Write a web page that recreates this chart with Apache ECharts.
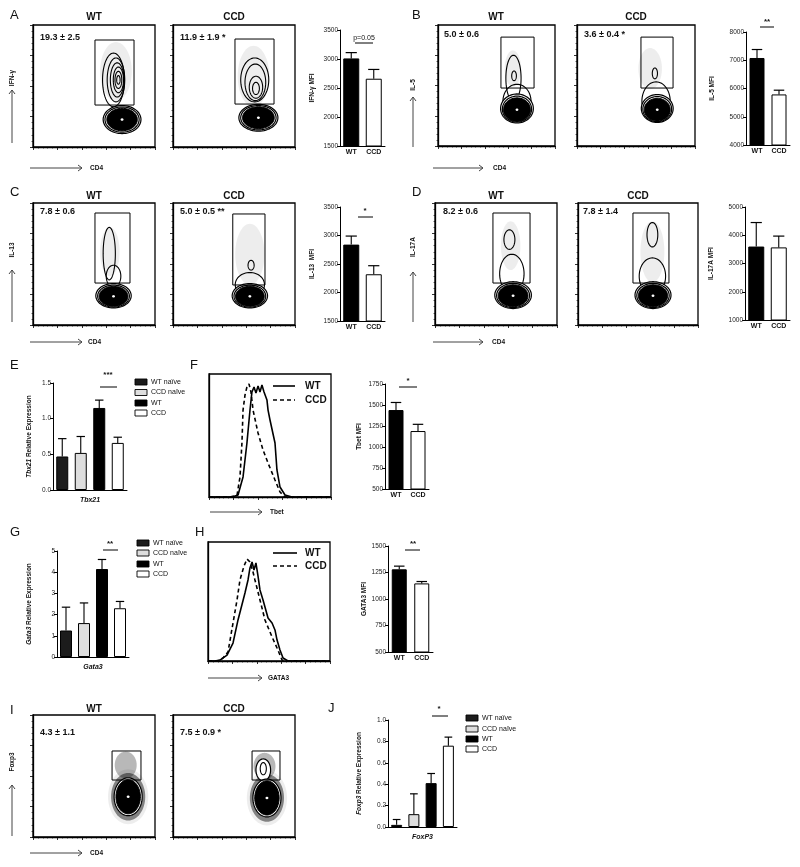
<!DOCTYPE html>
<html><head><meta charset="utf-8">
<script src="https://cdn.jsdelivr.net/npm/echarts@6/dist/echarts.min.js"></script>
<style>html,body{margin:0;padding:0;background:#fff}#c{width:800px;height:867px}</style>
</head><body><div id="c"></div>
<script>
// ================= DATA =================
const flowGroups = ['WT', 'CCD'];
const qpcrGroups = ['WT naïve', 'CCD naïve', 'WT', 'CCD'];

// gated percentages (mean ± SEM)
const pctIFNg  = ['19.3 ± 2.5', '11.9 ± 1.9 *'];
const pctIL5   = ['5.0 ± 0.6', '3.6 ± 0.4 *'];
const pctIL13  = ['7.8 ± 0.6', '5.0 ± 0.5 **'];
const pctIL17A = ['8.2 ± 0.6', '7.8 ± 1.4'];
const pctFoxp3 = ['4.3 ± 1.1', '7.5 ± 0.9 *'];

// gates [xMin, yMin, xMax, yMax] in plot units (0..1)
const gateIFNg  = [[0.508, 0.344, 0.828, 0.877], [0.508, 0.352, 0.828, 0.885]];
const gateIL5   = [[0.538, 0.479, 0.821, 0.900], [0.542, 0.479, 0.814, 0.900]];
const gateIL13  = [[0.508, 0.344, 0.795, 0.918], [0.490, 0.328, 0.754, 0.910]];
const gateIL17A = [[0.475, 0.344, 0.779, 0.918], [0.458, 0.344, 0.758, 0.918]];
const gateFoxp3 = [[0.648, 0.467, 0.885, 0.705], [0.648, 0.467, 0.877, 0.705]];

// contour levels [cx, cy, rx, ry, kind]  kind: 0 ring, 1 dense core, 2 sparse events, 3 centre, 4 open contour, 5 dense events
const contIFNgWT = [[0.68,0.62,0.13,0.24,2],[0.66,0.55,0.09,0.22,4],[0.68,0.55,0.072,0.18,4],[0.69,0.55,0.056,0.14,4],[0.70,0.55,0.042,0.105,4],[0.70,0.55,0.028,0.07,4],[0.70,0.55,0.014,0.035,4],
  [0.73,0.225,0.155,0.115,0],[0.73,0.225,0.14,0.103,0],[0.73,0.225,0.125,0.092,1],[0.73,0.225,0.012,0.01,3]];
const contIFNgCCD = [[0.66,0.58,0.13,0.25,2],[0.67,0.55,0.115,0.18,4],[0.675,0.53,0.085,0.15,4],[0.68,0.49,0.055,0.09,4],[0.68,0.48,0.028,0.05,4],
  [0.70,0.24,0.16,0.11,0],[0.70,0.24,0.145,0.10,0],[0.70,0.24,0.13,0.09,1],[0.70,0.24,0.012,0.01,3]];
const contIL5WT = [[0.64,0.64,0.07,0.15,2],[0.645,0.56,0.065,0.19,4],[0.65,0.58,0.02,0.04,4],
  [0.675,0.37,0.12,0.14,4],[0.675,0.31,0.14,0.12,0],[0.675,0.305,0.125,0.107,0],[0.675,0.30,0.115,0.098,1],[0.675,0.30,0.012,0.01,3]];
const contIL5CCD = [[0.62,0.64,0.10,0.17,2],[0.66,0.60,0.022,0.045,4],[0.67,0.37,0.12,0.16,4],
  [0.68,0.31,0.135,0.115,0],[0.68,0.305,0.122,0.104,0],[0.68,0.30,0.11,0.094,1],[0.68,0.30,0.012,0.01,3]];
const contIL13WT = [[0.63,0.60,0.08,0.20,2],[0.625,0.585,0.05,0.215,4],[0.66,0.40,0.06,0.09,4],
  [0.66,0.24,0.145,0.10,0],[0.66,0.237,0.13,0.09,0],[0.66,0.235,0.118,0.082,1],[0.66,0.235,0.012,0.01,3]];
const contIL13CCD = [[0.63,0.58,0.12,0.25,2],[0.64,0.49,0.025,0.04,4],[0.63,0.33,0.12,0.10,4],
  [0.63,0.24,0.145,0.10,0],[0.63,0.237,0.13,0.09,0],[0.63,0.235,0.118,0.082,1],[0.63,0.235,0.012,0.01,3]];
const contIL17AWT = [[0.62,0.65,0.08,0.20,2],[0.61,0.70,0.045,0.08,4],[0.63,0.42,0.10,0.16,4],
  [0.64,0.245,0.15,0.11,0],[0.64,0.242,0.135,0.099,0],[0.64,0.24,0.122,0.09,1],[0.64,0.24,0.012,0.01,3]];
const contIL17ACCD = [[0.62,0.60,0.10,0.25,2],[0.62,0.74,0.045,0.10,4],[0.62,0.40,0.11,0.15,4],
  [0.625,0.245,0.15,0.11,0],[0.625,0.242,0.135,0.099,0],[0.625,0.24,0.122,0.09,1],[0.625,0.24,0.012,0.01,3]];
const contFoxp3WT = [[0.78,0.33,0.165,0.225,2],[0.78,0.33,0.14,0.195,5],[0.76,0.59,0.09,0.11,6],
  [0.78,0.33,0.115,0.155,0],[0.78,0.33,0.10,0.14,1],[0.78,0.33,0.012,0.01,3]];
const contFoxp3CCD = [[0.77,0.32,0.165,0.225,2],[0.77,0.32,0.14,0.195,5],[0.75,0.58,0.09,0.11,6],
  [0.74,0.55,0.06,0.09,0],[0.74,0.56,0.025,0.05,4],
  [0.77,0.32,0.115,0.155,0],[0.77,0.32,0.10,0.14,1],[0.77,0.32,0.012,0.01,3]];

// MFI bar values (mean, SEM)
const mfiIFNg  = [3010, 2660], semIFNg  = [100, 160];
const mfiIL5   = [7080, 5790], semIL5   = [300, 150];
const mfiIL13  = [2840, 2320], semIL13  = [150, 150];
const mfiIL17A = [3600, 3570], semIL17A = [850, 400];
const mfiTbet  = [1440, 1190], semTbet  = [90, 80];
const mfiGATA3 = [1280, 1147], semGATA3 = [30, 18];

// qPCR relative expression (mean, SEM)
const relTbx21 = [0.47, 0.52, 1.15, 0.66], errTbx21 = [0.25, 0.23, 0.11, 0.08];
const relGata3 = [1.25, 1.6, 4.15, 2.3],   errGata3 = [1.1, 0.95, 0.45, 0.32];
const relFoxp3 = [0.02, 0.12, 0.41, 0.76], errFoxp3 = [0.05, 0.19, 0.09, 0.08];

// y axis ranges [min, max, interval]
const yIFNg = [1500, 3500, 500], yIL5 = [4000, 8000, 1000], yIL13 = [1500, 3500, 500], yIL17A = [1000, 5000, 1000];
const yTbet = [500, 1750, 250], yGATA3 = [500, 1500, 250];
const yTbx21 = [0, 1.5, 0.5], yGata3 = [0, 5, 1], yFoxp3 = [0, 1.0, 0.2];

// histograms [channel, % of max]
const histTbetWT = [[0,0],[18.9,0],[23.8,1.6],[27.9,16.3],[31.1,43.9],[33.6,70.7],[35.2,85.4],[36.9,89.4],[38.5,84.6],[40.2,90.2],[41.8,85.4],[43.4,91.1],[45.1,85.4],[47.5,78.9],[48.4,70.7],[50.0,62.6],[54.1,43.9],[55.7,22.0],[58.2,8.1],[62.3,1.6],[68.0,0],[100,0]];
const histTbetCCD = [[0,0],[17.2,0],[23.0,1.6],[25.4,16.3],[27.0,43.9],[27.9,70.7],[29.5,82.9],[31.1,89.4],[32.8,91.9],[34.4,85.4],[36.1,70.7],[40.2,52.0],[44.3,38.2],[48.4,27.6],[54.1,13.8],[58.2,4.1],[62.3,0],[100,0]];
const histGATA3WT = [[0,0],[5.7,0],[9.8,0.8],[15.6,5.0],[20.5,15.1],[24.6,34.5],[30.3,57.1],[32.8,68.1],[34.4,78.2],[36.1,83.2],[37.7,76.5],[39.3,82.4],[41.0,71.4],[42.6,59.7],[45.1,51.3],[49.2,36.1],[52.5,31.9],[54.9,26.1],[56.6,17.6],[59.0,9.2],[61.5,2.5],[65.6,0],[100,0]];
const histGATA3CCD = [[0,0],[8.2,0],[12.3,2.5],[16.4,7.6],[20.5,31.9],[23.8,51.3],[26.2,68.1],[29.5,79.8],[32.0,85.7],[34.4,83.2],[36.9,74.8],[38.5,68.1],[42.6,51.3],[46.7,34.5],[52.5,20.2],[56.6,10.9],[60.7,0.8],[63.9,0],[100,0]];

// ================= BUILD =================
const FONT = '"Liberation Sans", Arial, Helvetica, sans-serif';
const grids = [], xAxes = [], yAxes = [], series = [], graphics = [];
const flowFill = ['#000', '#fff'];
const qpcrFill = ['#1c1c1c', '#dedede', '#000', '#fff'];

function addGrid(box, extra) {
  grids.push(Object.assign({left: box[0], top: box[1], width: box[2], height: box[3], containLabel: false}, extra || {}));
  return grids.length - 1;
}
function T(x, y, s, o, rot) {
  const g = {type: 'text', x: x, y: y, silent: true, z: 100,
    style: Object.assign({text: s, fontSize: 10, fontFamily: FONT, fill: '#111', align: 'left', verticalAlign: 'middle'}, o || {})};
  if (rot) g.rotation = rot;
  graphics.push(g);
}
function L(x1, y1, x2, y2, o) {
  graphics.push({type: 'line', silent: true, z: 100, shape: {x1: x1, y1: y1, x2: x2, y2: y2},
    style: Object.assign({stroke: '#000', lineWidth: 1}, o || {})});
}
function arrowH(x1, x2, y, label, lx) {
  L(x1, y, x2, y, {stroke: '#444'});
  graphics.push({type: 'polyline', silent: true, z: 100, shape: {points: [[x2 - 4, y - 3], [x2, y], [x2 - 4, y + 3]]}, style: {stroke: '#444', lineWidth: 1, fill: 'none'}});
  T(lx, y, label, {fontSize: 6.5, fontWeight: 'bold'});
}
function arrowV(x, y1, y2, label, ly) {
  L(x, y1, x, y2, {stroke: '#444'});
  graphics.push({type: 'polyline', silent: true, z: 100, shape: {points: [[x - 3, y2 + 4], [x, y2], [x + 3, y2 + 4]]}, style: {stroke: '#444', lineWidth: 1, fill: 'none'}});
  T(x, ly, label, {fontSize: 6.5, fontWeight: 'bold', align: 'center'}, Math.PI / 2);
}

const kindStyle = {
  0: {fill: '#fff', stroke: '#000', lineWidth: 1.2},
  1: {fill: '#000', stroke: '#000', lineWidth: 1},
  2: {fill: 'rgba(0,0,0,0.07)', stroke: 'none'},
  3: {fill: '#fff', stroke: 'none'},
  4: {fill: 'none', stroke: '#000', lineWidth: 1.1},
  5: {fill: 'rgba(0,0,0,0.45)', stroke: 'none'},
  6: {fill: 'rgba(0,0,0,0.28)', stroke: 'none'}
};
function renderEllipse(params, api) {
  const c = api.coord([api.value(0), api.value(1)]);
  const s = api.size([api.value(2), api.value(3)]);
  const pts = [];
  for (let k = 0; k < 64; k++) {
    const a = k / 64 * Math.PI * 2;
    pts.push([c[0] + s[0] * Math.cos(a), c[1] + s[1] * Math.sin(a)]);
  }
  return {type: 'polygon', shape: {points: pts}, style: Object.assign({}, kindStyle[api.value(4)])};
}
function renderGate(params, api) {
  const p1 = api.coord([api.value(0), api.value(3)]);
  const p2 = api.coord([api.value(2), api.value(1)]);
  return {type: 'rect', shape: {x: p1[0], y: p1[1], width: p2[0] - p1[0], height: p2[1] - p1[1]}, style: {fill: 'none', stroke: '#000', lineWidth: 1}};
}
function flowAxis(gi, interval, ticks) {
  return {gridIndex: gi, type: 'value', min: 0, max: 1, interval: interval,
    axisLine: {show: true, onZero: false, lineStyle: {color: '#000', width: 1.3}},
    axisTick: {show: ticks, length: 3, lineStyle: {color: '#000', width: 0.8}},
    minorTick: {show: ticks, splitNumber: 5, length: 1.5, lineStyle: {color: '#000', width: 0.6}},
    axisLabel: {show: false}, splitLine: {show: false}};
}
function flowPlot(box, gate, contours, title, tpos, pct, ppos) {
  const gi = addGrid(box, {show: true, borderColor: '#000', borderWidth: 1.3, backgroundColor: '#fff'});
  xAxes.push(flowAxis(gi, 0.2, true));
  yAxes.push(flowAxis(gi, 0.25, true));
  const ai = xAxes.length - 1;
  series.push({type: 'custom', xAxisIndex: ai, yAxisIndex: ai, renderItem: renderEllipse, data: contours, clip: true, silent: true, z: 2});
  series.push({type: 'custom', xAxisIndex: ai, yAxisIndex: ai, renderItem: renderGate, data: [gate], clip: true, silent: true, z: 3});
  T(tpos[0], tpos[1], title, {fontSize: 10, fontWeight: 'bold', align: 'center'});
  T(ppos[0], ppos[1], pct, {fontSize: 9, fontWeight: 'bold'});
}
function histPlot(box, wt, ccd) {
  const gi = addGrid(box, {show: true, borderColor: '#000', borderWidth: 1.3, backgroundColor: '#fff'});
  xAxes.push({gridIndex: gi, type: 'value', min: 0, max: 100, interval: 20,
    axisLine: {show: true, onZero: false, lineStyle: {color: '#000', width: 1.3}},
    axisTick: {show: true, length: 3, lineStyle: {color: '#000', width: 0.8}},
    minorTick: {show: true, splitNumber: 5, length: 1.5, lineStyle: {color: '#000', width: 0.6}},
    axisLabel: {show: false}, splitLine: {show: false}});
  yAxes.push({gridIndex: gi, type: 'value', min: 0, max: 100,
    axisLine: {show: true, onZero: false, lineStyle: {color: '#000', width: 1.3}},
    axisTick: {show: false}, axisLabel: {show: false}, splitLine: {show: false}});
  const ai = xAxes.length - 1;
  series.push({type: 'line', xAxisIndex: ai, yAxisIndex: ai, data: ccd, symbol: 'none', silent: true, z: 2,
    lineStyle: {color: '#000', width: 1.6, type: [4, 3]}});
  series.push({type: 'line', xAxisIndex: ai, yAxisIndex: ai, data: wt, symbol: 'none', silent: true, z: 3,
    lineStyle: {color: '#000', width: 1.6}});
}
function renderErr(capW) {
  return function (params, api) {
    const i = api.value(0), m = api.value(1), e = api.value(2);
    const p0 = api.coord([i, m]), p1 = api.coord([i, m + e]);
    return {type: 'group', children: [
      {type: 'line', shape: {x1: p0[0], y1: p0[1], x2: p1[0], y2: p1[1]}, style: {stroke: '#000', lineWidth: 1.1}},
      {type: 'line', shape: {x1: p1[0] - capW / 2, y1: p1[1], x2: p1[0] + capW / 2, y2: p1[1]}, style: {stroke: '#000', lineWidth: 1.2}}
    ]};
  };
}
function barChart(box, cats, means, errs, yr, fills, barW, yName, nameGap, o) {
  o = o || {};
  const gi = addGrid(box);
  const dec = o.dec || 0;
  xAxes.push({gridIndex: gi, type: 'category', data: cats,
    axisLine: {show: true, onZero: false, lineStyle: {color: '#000', width: 1}},
    axisTick: {show: false},
    axisLabel: {show: !o.xName, interval: 0, fontSize: 7, fontWeight: 'bold', color: '#111', margin: 3, fontFamily: FONT},
    name: o.xName || '', nameLocation: 'middle', nameGap: 7,
    nameTextStyle: {fontSize: 7, fontWeight: 'bold', fontStyle: 'italic', color: '#111', fontFamily: FONT}});
  yAxes.push({gridIndex: gi, type: 'value', min: yr[0], max: yr[1], interval: yr[2],
    axisLine: {show: true, lineStyle: {color: '#000', width: 1}},
    axisTick: {show: true, length: 3, lineStyle: {color: '#000', width: 1}},
    axisLabel: {fontSize: 6.5, color: '#222', margin: 2, fontFamily: FONT, formatter: function (v) { return v.toFixed(dec); }},
    splitLine: {show: false},
    name: yName, nameLocation: 'middle', nameGap: nameGap, nameRotate: 90,
    nameTextStyle: {fontSize: 6.5, fontWeight: 'bold', color: '#111', fontFamily: FONT,
      rich: {i: {fontSize: 6.5, fontWeight: 'bold', fontStyle: 'italic', color: '#111', fontFamily: FONT}}}});
  const ai = xAxes.length - 1;
  series.push({type: 'bar', xAxisIndex: ai, yAxisIndex: ai, barWidth: barW, silent: true, z: 2,
    data: means.map(function (v, i) { return {value: v, itemStyle: {color: fills[i], borderColor: '#000', borderWidth: 1}}; })});
  series.push({type: 'custom', xAxisIndex: ai, yAxisIndex: ai, silent: true, z: 3, renderItem: renderErr(barW * 0.7),
    data: means.map(function (v, i) { return [i, v, errs[i]]; })});
}
function qLegend(x, ys, labels, fills) {
  ys.forEach(function (y, i) {
    graphics.push({type: 'rect', silent: true, z: 100, shape: {x: x, y: y - 3, width: 12, height: 6}, style: {fill: fills[i], stroke: '#000', lineWidth: 0.9}});
    T(x + 16, y, labels[i], {fontSize: 7});
  });
}
function sig(x, y, text, lx1, lx2, ly, fs) {
  T(x, y, text, {fontSize: fs || 8, fontWeight: 'bold', align: 'center'});
  L(lx1, ly, lx2, ly, {lineWidth: 1});
}

// ---- panel letters ----
[['A', 10, 15], ['B', 412, 15], ['C', 10, 192], ['D', 412, 192], ['E', 10, 365], ['F', 190, 365],
 ['G', 10, 532], ['H', 195, 532], ['I', 10, 710], ['J', 328, 708]].forEach(function (p) {
  T(p[1], p[2], p[0], {fontSize: 13});
});

// ---- A ----
flowPlot([33, 25, 122, 122], gateIFNg[0], contIFNgWT, flowGroups[0], [94, 17], pctIFNg[0], [40, 38]);
flowPlot([173, 25, 122, 122], gateIFNg[1], contIFNgCCD, flowGroups[1], [234, 17], pctIFNg[1], [180, 38]);
arrowV(12, 143, 90, 'IFN-γ', 78);
arrowH(30, 82, 168, 'CD4', 90);
barChart([340, 30, 45, 116], flowGroups, mfiIFNg, semIFNg, yIFNg, flowFill, 16, 'IFN-γ MFI', 24);
T(364, 38, 'p=0.05', {fontSize: 7, align: 'center'});
L(355, 43, 373, 43);

// ---- B ----
flowPlot([438, 25, 117, 121], gateIL5[0], contIL5WT, flowGroups[0], [496, 17], pctIL5[0], [444, 35]);
flowPlot([577, 25, 118, 121], gateIL5[1], contIL5CCD, flowGroups[1], [636, 17], pctIL5[1], [584, 35]);
arrowV(413, 147, 97, 'IL-5', 85);
arrowH(433, 483, 168, 'CD4', 493);
barChart([746, 32, 44, 113], flowGroups, mfiIL5, semIL5, yIL5, flowFill, 15, 'IL-5 MFI', 30);
sig(767, 22, '**', 760, 774, 27);

// ---- C ----
flowPlot([33, 203, 122, 122], gateIL13[0], contIL13WT, flowGroups[0], [94, 196], pctIL13[0], [40, 212]);
flowPlot([173, 203, 122, 122], gateIL13[1], contIL13CCD, flowGroups[1], [234, 196], pctIL13[1], [180, 212]);
arrowV(12, 322, 270, 'IL-13', 250);
arrowH(30, 82, 342, 'CD4', 88);
barChart([340, 207, 45, 114], flowGroups, mfiIL13, semIL13, yIL13, flowFill, 16, 'IL-13  MFI', 24);
sig(365, 211, '*', 358, 373, 217);

// ---- D ----
flowPlot([435, 203, 122, 122], gateIL17A[0], contIL17AWT, flowGroups[0], [496, 196], pctIL17A[0], [443, 212]);
flowPlot([578, 203, 120, 122], gateIL17A[1], contIL17ACCD, flowGroups[1], [638, 196], pctIL17A[1], [583, 212]);
arrowV(413, 322, 272, 'IL-17A', 247);
arrowH(433, 483, 342, 'CD4', 492);
barChart([745, 207, 45, 113], flowGroups, mfiIL17A, semIL17A, yIL17A, flowFill, 16, 'IL-17A MFI', 30);

// ---- E ----
barChart([53, 383, 74, 107], qpcrGroups, relTbx21, errTbx21, yTbx21, qpcrFill, 12, '{i|Tbx21} Relative Expression', 20, {xName: 'Tbx21', dec: 1});
sig(108, 375, '***', 100, 117, 387);
qLegend(135, [382, 392.5, 403, 413], qpcrGroups, qpcrFill);

// ---- F ----
histPlot([209, 374, 122, 123], histTbetWT, histTbetCCD);
L(273, 386, 295, 386, {lineWidth: 1.6});
T(305, 386, flowGroups[0], {fontSize: 10, fontWeight: 'bold'});
L(273, 400, 295, 400, {lineWidth: 1.6, lineDash: [4, 3]});
T(305, 400, flowGroups[1], {fontSize: 10, fontWeight: 'bold'});
arrowH(210, 262, 512, 'Tbet', 270);
barChart([385, 384, 44, 105], flowGroups, mfiTbet, semTbet, yTbet, flowFill, 15, 'Tbet MFI', 22);
sig(408, 381, '*', 399, 417, 387);

// ---- G ----
barChart([57, 551, 72, 106], qpcrGroups, relGata3, errGata3, yGata3, qpcrFill, 12, '{i|Gata3} Relative Expression', 24, {xName: 'Gata3'});
sig(110, 544, '**', 103, 118, 550);
qLegend(137, [543, 553, 564, 574], qpcrGroups, qpcrFill);

// ---- H ----
histPlot([208, 542, 122, 119], histGATA3WT, histGATA3CCD);
L(273, 553, 297, 553, {lineWidth: 1.6});
T(305, 553, flowGroups[0], {fontSize: 10, fontWeight: 'bold'});
L(273, 566, 297, 566, {lineWidth: 1.6, lineDash: [4, 3]});
T(305, 566, flowGroups[1], {fontSize: 10, fontWeight: 'bold'});
arrowH(208, 262, 678, 'GATA3', 268);
barChart([388, 546, 45, 106], flowGroups, mfiGATA3, semGATA3, yGATA3, flowFill, 15, 'GATA3 MFI', 20);
sig(413, 544, '**', 405, 420, 550);

// ---- I ----
flowPlot([33, 715, 122, 122], gateFoxp3[0], contFoxp3WT, flowGroups[0], [94, 709], pctFoxp3[0], [40, 733]);
flowPlot([173, 715, 122, 122], gateFoxp3[1], contFoxp3CCD, flowGroups[1], [234, 709], pctFoxp3[1], [180, 733]);
arrowV(12, 836, 785, 'Foxp3', 762);
arrowH(30, 82, 853, 'CD4', 90);

// ---- J ----
barChart([388, 720, 69, 107], qpcrGroups, relFoxp3, errFoxp3, yFoxp3, qpcrFill, 11, '{i|Foxp3} Relative Expression', 25, {xName: 'FoxP3', dec: 1});
sig(439, 709, '*', 432, 448, 716);
qLegend(466, [718, 729, 739, 749], qpcrGroups, qpcrFill);

const chart = echarts.init(document.getElementById('c'), null, {renderer: 'canvas'});
chart.setOption({
  animation: false,
  backgroundColor: '#fff',
  grid: grids, xAxis: xAxes, yAxis: yAxes, series: series, graphic: graphics
});
</script>
</body></html>
